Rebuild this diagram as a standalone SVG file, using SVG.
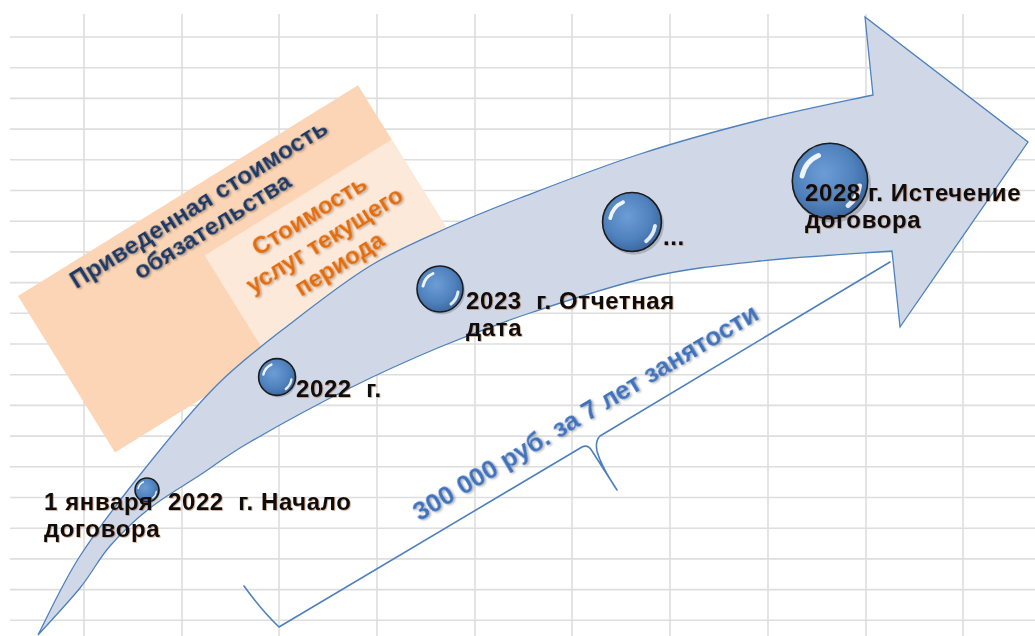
<svg xmlns="http://www.w3.org/2000/svg" xmlns:xlink="http://www.w3.org/1999/xlink" width="1035" height="636" viewBox="0 0 1035 636">
<style>
.grid line{stroke:#dedede;stroke-width:1.6}
.lbl{font-family:"Liberation Sans",Arial,sans-serif;font-weight:bold;font-size:24px;letter-spacing:0.6px;fill:#111}
.box1{font-family:"Liberation Sans",Arial,sans-serif;font-weight:bold;font-size:24.5px;fill:#1f3864;text-anchor:middle}
.box2{font-family:"Liberation Sans",Arial,sans-serif;font-weight:bold;font-size:24px;fill:#e36c0a;text-anchor:middle}
.sum{font-family:"Liberation Sans",Arial,sans-serif;font-weight:bold;font-size:26px;fill:#3f72bb;text-anchor:middle}
.brace{fill:none;stroke:#4f81bd;stroke-width:1.6;stroke-linejoin:round;stroke-linecap:round}
</style>
<defs>
<radialGradient id="ballGrad" cx="0.42" cy="0.4" r="0.62">
<stop offset="0" stop-color="#6c9dd6"/>
<stop offset="0.65" stop-color="#4f81bd"/>
<stop offset="1" stop-color="#3b679f"/>
</radialGradient>
<filter id="tsh" x="-10%" y="-30%" width="120%" height="160%">
<feDropShadow dx="1" dy="1.5" stdDeviation="1" flood-color="#000" flood-opacity="0.35"/>
</filter>
<filter id="lsh" x="-10%" y="-30%" width="120%" height="160%">
<feDropShadow dx="0.8" dy="0.8" stdDeviation="0.6" flood-color="#8a3a00" flood-opacity="0.45"/>
</filter>
<symbol id="ball" viewBox="-50 -50 100 100" overflow="visible">
<circle cx="3" cy="4" r="47" fill="#000" opacity="0.18"/>
<circle r="46" fill="url(#ballGrad)" stroke="#1b1b1b" stroke-width="1.6" vector-effect="non-scaling-stroke"/>
<path d="M-34,-6 A35 35 0 0 1 -14,-31" fill="none" stroke="#fff" stroke-width="6" stroke-linecap="round" opacity="0.9"/>
<path d="M36,6 A37 37 0 0 1 22,30" fill="none" stroke="#fff" stroke-width="6" stroke-linecap="round" opacity="0.85"/>
</symbol>
</defs>
<rect width="1035" height="636" fill="#fff"/>
<g class="grid">
<line x1="10" y1="37" x2="1035" y2="37"/>
<line x1="10" y1="67.7" x2="1035" y2="67.7"/>
<line x1="10" y1="98.4" x2="1035" y2="98.4"/>
<line x1="10" y1="129.1" x2="1035" y2="129.1"/>
<line x1="10" y1="159.8" x2="1035" y2="159.8"/>
<line x1="10" y1="190.5" x2="1035" y2="190.5"/>
<line x1="10" y1="221.2" x2="1035" y2="221.2"/>
<line x1="10" y1="251.9" x2="1035" y2="251.9"/>
<line x1="10" y1="282.6" x2="1035" y2="282.6"/>
<line x1="10" y1="313.3" x2="1035" y2="313.3"/>
<line x1="10" y1="344" x2="1035" y2="344"/>
<line x1="10" y1="374.7" x2="1035" y2="374.7"/>
<line x1="10" y1="405.4" x2="1035" y2="405.4"/>
<line x1="10" y1="436.1" x2="1035" y2="436.1"/>
<line x1="10" y1="466.8" x2="1035" y2="466.8"/>
<line x1="10" y1="497.5" x2="1035" y2="497.5"/>
<line x1="10" y1="528.2" x2="1035" y2="528.2"/>
<line x1="10" y1="558.9" x2="1035" y2="558.9"/>
<line x1="10" y1="589.6" x2="1035" y2="589.6"/>
<line x1="10" y1="620.3" x2="1035" y2="620.3"/>
<line x1="84" y1="14" x2="84" y2="636"/>
<line x1="182" y1="14" x2="182" y2="636"/>
<line x1="279" y1="14" x2="279" y2="636"/>
<line x1="377" y1="14" x2="377" y2="636"/>
<line x1="475" y1="14" x2="475" y2="636"/>
<line x1="572" y1="14" x2="572" y2="636"/>
<line x1="670" y1="14" x2="670" y2="636"/>
<line x1="768" y1="14" x2="768" y2="636"/>
<line x1="866" y1="14" x2="866" y2="636"/>
<line x1="963" y1="14" x2="963" y2="636"/>
</g>
<g id="obligation-box" transform="translate(18,296) rotate(-31.8)">
<rect x="0" y="0" width="400" height="184" fill="#fbd5b5"/>
<rect x="180" y="64" width="220" height="120" fill="#fde9d9"/>
<g filter="url(#tsh)">
<text class="box1" x="202" y="25">Приведенная стоимость</text>
<text class="box1" x="202" y="51">обязательства</text>
</g>
<g filter="url(#tsh)">
<text class="box2" x="290" y="93">Стоимость</text>
<text class="box2" x="290" y="122">услуг текущего</text>
<text class="box2" x="290" y="150">периода</text>
</g>
</g>
<g id="timeline-arrow">
<path d="M38,635 C45,621.8 61.8,584.2 80,556 C98.2,527.8 124.2,494.5 147,466 C169.8,437.5 193.2,408.7 217,385 C240.8,361.3 264.5,343.8 290,324 C315.5,304.2 343.8,282 370,266 C396.2,250 422,239.3 447,228 C472,216.7 487.8,210.3 520,198 C552.2,185.7 600,167 640,154 C680,141 721.2,129.8 760,120 C798.8,110.2 854.2,99.2 873,95 L865,17 L1028,142 L900,327 L892,251 C870,252.7 800.3,256.7 760,261 C719.7,265.3 687.8,268.5 650,277 C612.2,285.5 568,300.3 533,312 C498,323.7 470.5,334.3 440,347 C409.5,359.7 381.7,372.2 350,388 C318.3,403.8 275,427.5 250,442 C225,456.5 216.7,464 200,475 C183.3,486 165,496.2 150,508 C135,519.8 121.7,532.7 110,546 C98.3,559.3 92,573.2 80,588 C68,602.8 45,627.2 38,635 Z" fill="#d0d8e8" stroke="#4f81bd" stroke-width="1.3" stroke-linejoin="miter"/>
</g>
<g id="connectors">
<path class="brace" d="M244,586 Q262,611 279,627 L582,447 Q588,444 592,451 L617,490 M617,490 Q601,466 597,451 Q595,441 600,436 L890,262"/>
</g>
<g id="node-start">
<use xlink:href="#ball" href="#ball" x="134" y="477" width="26" height="26"/>
<g filter="url(#lsh)">
<text class="lbl" x="44" y="510" xml:space="preserve">1 января  2022  г. Начало</text>
<text class="lbl" x="44" y="537">договора</text>
</g>
</g>
<g id="node-2022">
<use xlink:href="#ball" href="#ball" x="257" y="357" width="40" height="40"/>
<text class="lbl" x="296" y="397" filter="url(#lsh)" xml:space="preserve">2022  г.</text>
</g>
<g id="node-2023">
<use xlink:href="#ball" href="#ball" x="415" y="264" width="50" height="50"/>
<g filter="url(#lsh)">
<text class="lbl" x="466" y="309" xml:space="preserve">2023  г. Отчетная</text>
<text class="lbl" x="466" y="336">дата</text>
</g>
</g>
<g id="node-dots">
<use xlink:href="#ball" href="#ball" x="600" y="190" width="64" height="64"/>
<text class="lbl" x="663" y="245" filter="url(#lsh)">...</text>
</g>
<g id="node-2028">
<use xlink:href="#ball" href="#ball" x="789" y="140" width="82" height="82"/>
<g filter="url(#lsh)">
<text class="lbl" x="805" y="201">2028 г. Истечение</text>
<text class="lbl" x="805" y="228">договора</text>
</g>
</g>
<g id="label-sum">
<text class="sum" transform="translate(590,420) rotate(-30.8)" filter="url(#tsh)">300 000 руб. за 7 лет занятости</text>
</g>
</svg>
